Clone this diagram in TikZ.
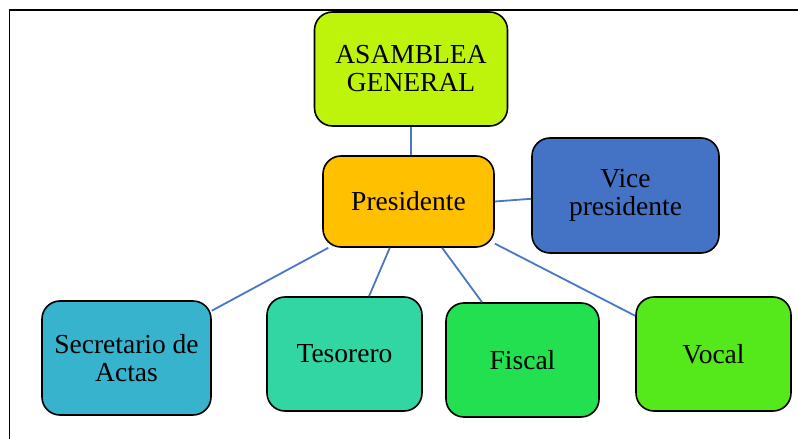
\documentclass[tikz,border=0pt]{standalone}
\usepackage{fontspec}
\setmainfont{Liberation Serif}
\definecolor{asambleaverde}{HTML}{BEF40C}
\definecolor{presidenteoro}{HTML}{FFC000}
\definecolor{viceazul}{HTML}{4472C4}
\definecolor{secretariocian}{HTML}{38B3CD}
\definecolor{tesoreroturq}{HTML}{31D6A3}
\definecolor{fiscalverde}{HTML}{22E04F}
\definecolor{vocalverde}{HTML}{55E81B}
\definecolor{enlaceazul}{HTML}{4A76C6}
\begin{document}
\begin{tikzpicture}[x=1pt,y=1pt,
    cargo/.style={draw=black,line width=1.6pt,rounded corners=18pt,align=center,inner sep=2pt,font=\fontsize{27.5}{28}\selectfont},
    enlace/.style={draw=enlaceazul,line width=1.8pt}]
    \useasboundingbox (0,0) rectangle (798,439);
    \draw[line width=1.3pt] (9.5,-10) -- (9.5,429) -- (810,429);
    \node[cargo,fill=asambleaverde,minimum width=193pt,minimum height=114pt] (asamblea) at (411,370) {ASAMBLEA\\GENERAL};
    \node[cargo,fill=presidenteoro,minimum width=171pt,minimum height=91pt] (presidente) at (408.5,237.5) {Presidente};
    \node[cargo,fill=viceazul,minimum width=187pt,minimum height=115pt] (vice) at (625.5,243.5) {Vice\\presidente};
    \node[cargo,fill=secretariocian,minimum width=169pt,minimum height=114pt] (secretario) at (126.5,81) {Secretario de\\Actas};
    \node[cargo,fill=tesoreroturq,minimum width=155pt,minimum height=114pt] (tesorero) at (344.5,85) {Tesorero};
    \node[cargo,fill=fiscalverde,minimum width=153pt,minimum height=114pt] (fiscal) at (522.5,79) {Fiscal};
    \node[cargo,fill=vocalverde,minimum width=155pt,minimum height=114pt] (vocal) at (713.5,85) {Vocal};
    \draw[enlace] (asamblea.south) -- (asamblea.south |- presidente.north);
    \draw[enlace] (presidente.east) -- (vice.182);
    \draw[enlace] (presidente.210) -- (secretario.29);
    \draw[enlace] (presidente.248) -- (tesorero.67);
    \draw[enlace] (presidente.306) -- (fiscal.125);
    \draw[enlace] (presidente.334) -- (vocal.154);
\end{tikzpicture}
\end{document}
